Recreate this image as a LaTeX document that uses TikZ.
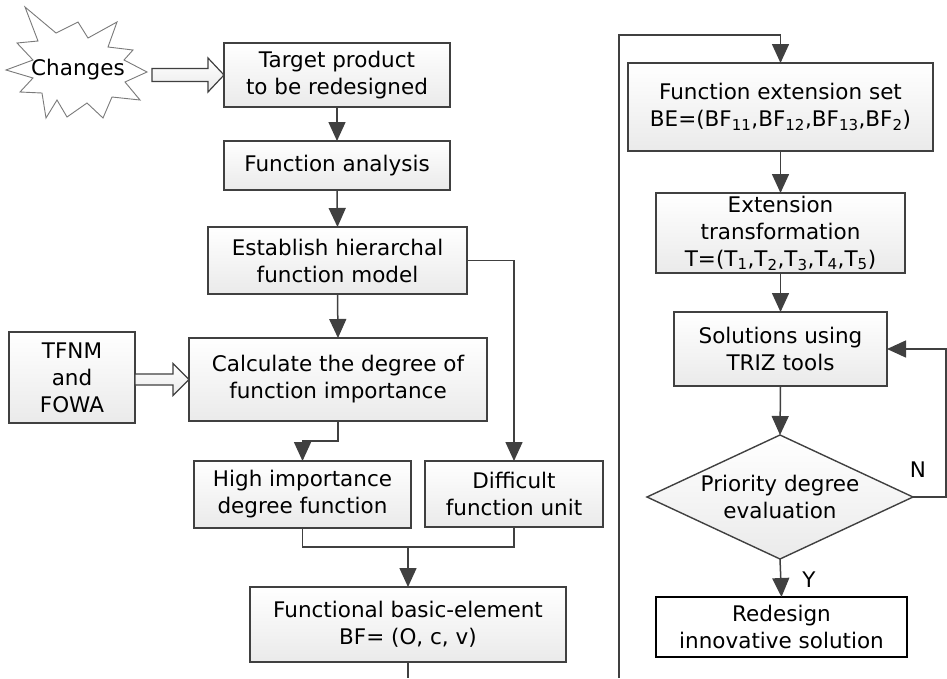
\documentclass[tikz,border=0pt]{standalone}
\usepackage{fontspec}
\setmainfont{DejaVu Sans}
\usetikzlibrary{arrows.meta,shapes.geometric,calc}
\definecolor{ln}{HTML}{404040}
\definecolor{bot}{HTML}{EAEAEA}
\definecolor{starc}{HTML}{7A7A7A}
\begin{document}
\begin{tikzpicture}[x=1pt,y=-1pt,
  font=\fontsize{21.5}{27}\selectfont,
  box/.style={draw=ln, line width=1.4pt, top color=white, bottom color=bot, align=center, inner sep=0pt, outer sep=0pt},
  endbox/.style={draw=black, line width=2pt, fill=white, align=center, inner sep=0pt, outer sep=0pt},
  conn/.style={draw=ln, line width=1.5pt},
  arr/.style={conn, -{Triangle[width=17pt,length=19pt]}},
  blk/.style={draw=ln, line width=1.2pt, top color=white, bottom color=bot},
  lbl/.style={inner sep=0pt}]
\useasboundingbox (0,0) rectangle (947,678);
\fill[white] (0,0) rectangle (947,678);

% explosion shape
\draw[starc, line width=0.9pt, fill=white] (25,7) -- (56,33) -- (78,22) -- (88,38) -- (117,22) -- (108,47) -- (133,50) -- (124,60) -- (147,72) -- (125,82) -- (140,100) -- (112,97) -- (103,118) -- (87,103) -- (67,117) -- (57,100) -- (46,118) -- (42,93) -- (20,92) -- (33,78) -- (6,70) -- (33,60) -- (17,43) -- (38,41) -- cycle;
\node[lbl] (chg) at (78,70) {Changes};

% left column
\node[box, minimum width=226pt, minimum height=64pt] (tgt) at (337,75) {Target product\\to be redesigned};
\node[box, minimum width=226pt, minimum height=49pt] (fa) at (337,165.5) {Function analysis};
\node[box, minimum width=259pt, minimum height=67pt] (est) at (337.5,260.5) {Establish hierarchal\\function model};
\node[box, minimum width=298pt, minimum height=83pt] (calc) at (338,379.5) {Calculate the degree of\\function importance};
\node[box, minimum width=126pt, minimum height=91pt] (tfnm) at (72,377.5) {TFNM\\and\\FOWA};
\node[box, minimum width=217pt, minimum height=67pt] (high) at (302.5,494.5) {High importance\\degree function};
\node[box, minimum width=178pt, minimum height=66pt] (diff) at (514,494) {Difficult\\function unit};
\node[box, minimum width=316pt, minimum height=75pt] (fbe) at (408,624.5) {Functional basic-element\\BF= (O, c, v)};

% right column
\node[box, minimum width=305pt, minimum height=88pt] (fes) at (780.5,107) {Function extension set\\BE=(BF\textsubscript{11},BF\textsubscript{12},BF\textsubscript{13},BF\textsubscript{2})};
\node[box, minimum width=249pt, minimum height=80pt] (ext) at (780.5,233) {Extension\\transformation\\T=(T\textsubscript{1},T\textsubscript{2},T\textsubscript{3},T\textsubscript{4},T\textsubscript{5})};
\node[box, minimum width=213pt, minimum height=74pt] (sol) at (780.5,349) {Solutions using\\TRIZ tools};
\node[diamond, draw=ln, line width=1.4pt, top color=white, bottom color=bot, minimum width=266pt, minimum height=124pt, inner sep=0pt, outer sep=0pt] (dia) at (780,497) {};
\node[align=center, lbl] (diat) at (dia.center) {Priority degree\\evaluation};
\node[endbox, minimum width=251pt, minimum height=60pt] (red) at (781.5,627) {Redesign\\innovative solution};
\node[lbl] (nlab) at (918,470) {N};
\node[lbl] (ylab) at (809,580) {Y};

% block arrows
\begin{scope}[shift={(tgt.west)}]
\draw[blk] (-72,-6.5) -- (-16,-6.5) -- (-16,-17) -- (0,0) -- (-16,17) -- (-16,6.5) -- (-72,6.5) -- cycle;
\end{scope}
\begin{scope}[shift={(calc.west)}]
\draw[blk] (-54,-5.5) -- (-16,-5.5) -- (-16,-16) -- (0,0) -- (-16,16) -- (-16,5.5) -- (-54,5.5) -- cycle;
\end{scope}

% connectors left
\draw[arr] (tgt.south) -- (fa.north);
\draw[arr] (fa.south) -- (est.north);
\draw[arr] (est.south) -- (calc.north);
\draw[arr] (calc.south) -- ++(0,20) -| (high.north);
\draw[arr] (est.east) -| (diff.north);
\coordinate (j) at (408,547);
\draw[conn] (high.south) |- (j) -| (diff.south);
\draw[arr] (j) -- (fbe.north);
\coordinate (b1) at (408,678);
\draw[conn] (fbe.south) -- (b1);

% connectors right
\coordinate (b2) at (619,678);
\coordinate (t2) at (619,35);
\draw[arr] (b2) -- (t2) -| (fes.north);
\draw[arr] (fes.south) -- (ext.north);
\draw[arr] (ext.south) -- (sol.north);
\draw[arr] (sol.south) -- (dia.north);
\draw[arr] (dia.south) -- (red.north);
\coordinate (r1) at (946,497);
\draw[arr] (dia.east) -- (r1) |- (sol.east);
\end{tikzpicture}
\end{document}
